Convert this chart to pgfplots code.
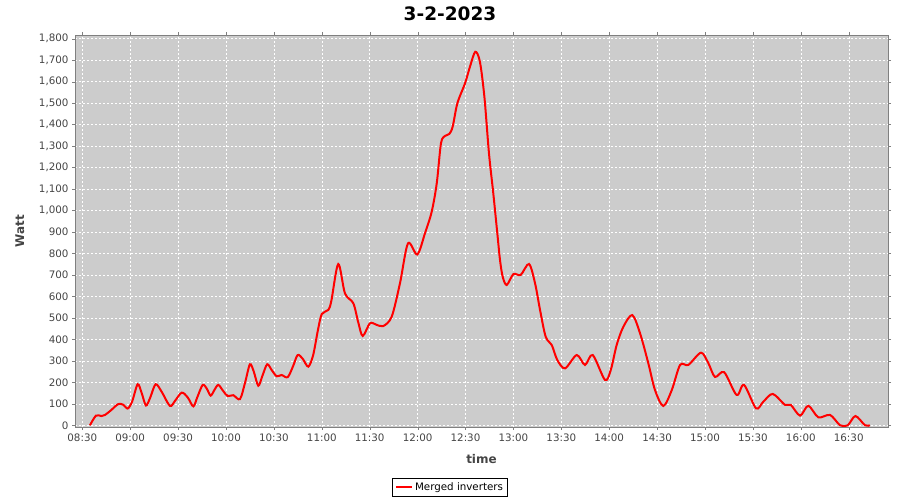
\documentclass[border=0pt]{standalone}
\usepackage{pgfplots}
\pgfplotsset{compat=1.18}
\usepackage{fontspec}
\setmainfont{DejaVu Sans}
\definecolor{bg}{RGB}{204,204,204}
\definecolor{txt}{RGB}{68,68,68}
\begin{document}
\begin{tikzpicture}[x=1pt,y=1pt]
\useasboundingbox (0,0) rectangle (900,500);
\begin{axis}[
  at={(75pt,73pt)}, anchor=south west, scale only axis,
  width=813pt, height=392pt,
  xmin=8.424, xmax=16.91, ymin=-8, ymax=1817,
  axis background/.style={fill=bg},
  axis line style={draw=gray},
  xtick={8.5,9,9.5,10,10.5,11,11.5,12,12.5,13,13.5,14,14.5,15,15.5,16,16.5},
  xticklabels={08:30,09:00,09:30,10:00,10:30,11:00,11:30,12:00,12:30,13:00,13:30,14:00,14:30,15:00,15:30,16:00,16:30},
  ytick={0,100,...,1800},
  /pgf/number format/.cd, 1000 sep={,}, assume math mode=true, /pgfplots/.cd,
  tick label style={font=\fontsize{10.3}{12}\selectfont, text=txt},
  tick align=outside, major tick length=3pt, tick style={draw=gray},
  grid=major, grid style={white, dash pattern=on 2pt off 2pt, line width=0.45pt},
  xlabel={time}, ylabel={Watt},
  label style={font=\bfseries\fontsize{12}{14}\selectfont, text=txt},
  xlabel style={at={(axis description cs:0.5,-0.082)}, anchor=center},
  ylabel style={at={(axis description cs:-0.0677,0.5)}, anchor=center},
  legend style={at={(axis description cs:0.4613,-0.153)}, anchor=center,
    draw=black, fill=white, font=\fontsize{10.3}{12}\selectfont, inner xsep=2.5pt, inner ysep=2.5pt},
  legend image code/.code={\draw[#1] (0pt,0pt) -- (16pt,0pt);},
]
\addplot[red, line width=2pt, smooth, tension=0.5] coordinates {
(8.58,0) (8.643,45) (8.70,43) (8.737,48) (8.80,70) (8.876,99) (8.93,95) (8.974,78)
(9.02,110) (9.078,191) (9.12,150) (9.165,92) (9.21,130) (9.266,191) (9.33,155)
(9.415,90) (9.47,115) (9.538,152) (9.60,130) (9.659,88) (9.70,130) (9.757,188)
(9.80,170) (9.84,138) (9.88,165) (9.92,188) (9.97,160) (10.018,136) (10.076,140)
(10.146,122) (10.20,200) (10.25,284) (10.29,250) (10.337,184) (10.38,230) (10.43,284)
(10.48,255) (10.53,228) (10.58,234) (10.644,224) (10.70,275) (10.748,327) (10.80,310)
(10.859,273) (10.91,327) (10.96,444) (11.0,518) (11.068,537) (11.10,580) (11.172,751)
(11.242,614) (11.329,568) (11.38,480) (11.427,416) (11.503,475) (11.57,468) (11.642,462)
(11.73,506) (11.816,661) (11.90,847) (11.997,795) (12.077,894) (12.147,994) (12.2,1127)
(12.244,1313) (12.286,1347) (12.33,1356) (12.366,1390) (12.415,1499) (12.495,1592)
(12.547,1670) (12.602,1739) (12.65,1693) (12.697,1530) (12.745,1266) (12.79,1080)
(12.832,894) (12.86,770) (12.888,692) (12.93,653) (13.0,704) (13.076,700) (13.163,751)
(13.226,661) (13.278,537) (13.337,412) (13.40,374) (13.458,304) (13.539,265)
(13.661,327) (13.747,281) (13.828,327) (13.956,211) (14.016,257) (14.078,374)
(14.148,459) (14.241,513) (14.322,428) (14.408,289) (14.478,164) (14.565,90)
(14.653,164) (14.74,281) (14.826,281) (14.958,338) (15.035,289) (15.104,225)
(15.2,247) (15.33,141) (15.407,188) (15.532,79) (15.609,110) (15.707,146)
(15.835,95) (15.895,95) (15.992,45) (16.078,91) (16.183,37) (16.305,48) (16.41,0)
(16.49,0) (16.57,43) (16.67,0) (16.72,0)
};
\addlegendentry{Merged inverters}
\end{axis}
\node[font=\bfseries\fontsize{18.5}{21}\selectfont] at (450,486) {3-2-2023};
\end{tikzpicture}
\end{document}
